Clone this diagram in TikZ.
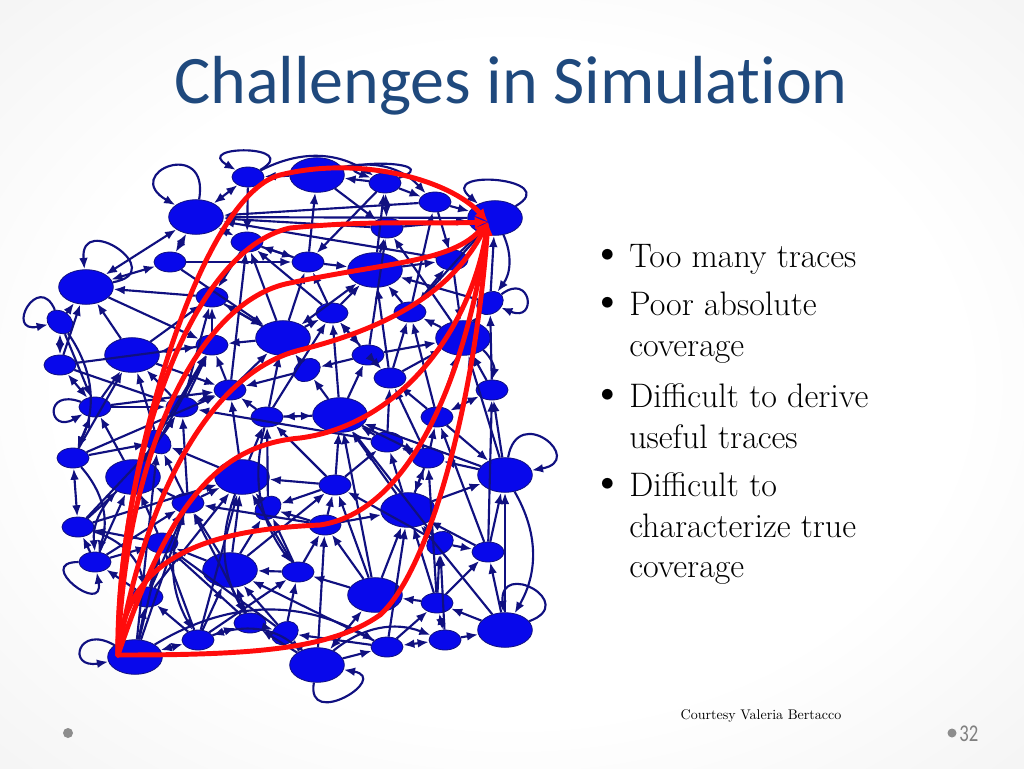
\documentclass[tikz,border=0pt]{standalone}
\usepackage{fontspec}
\newfontfamily\titlefont[Ligatures=NoCommon]{Carlito}
\usetikzlibrary{shapes.geometric,arrows.meta}
\definecolor{navy}{RGB}{16,16,128}
\definecolor{nodeblue}{RGB}{8,8,235}
\definecolor{titleblue}{RGB}{31,73,125}
\definecolor{tred}{RGB}{255,12,12}
\definecolor{pgray}{RGB}{128,128,128}
\pgfdeclareradialshading{slidebg}{\pgfpoint{0bp}{0bp}}{color(0bp)=(white); color(22bp)=(white); color(45bp)=(black!7); color(72bp)=(black!17)}
\tikzset{
  L/.style={ellipse, fill=nodeblue, draw=navy, line width=0.6pt, inner sep=0pt, minimum width=41pt, minimum height=26pt},
  S/.style={ellipse, fill=nodeblue, draw=navy, line width=0.6pt, inner sep=0pt, minimum width=24pt, minimum height=15pt},
  T/.style={S, minimum width=21pt, minimum height=16pt},
  e/.style={draw=navy, line width=1.6pt, -{Latex[length=8.5pt,width=6.5pt]}},
  ee/.style={draw=navy, line width=1.6pt, {Latex[length=8.5pt,width=6.5pt]}-{Latex[length=8.5pt,width=6.5pt]}},
  rline/.style={draw=tred, line width=3.7pt, line cap=round, -{Latex[length=10pt,width=9pt]}},
  bullettext/.style={anchor=base west, inner sep=0pt, font=\fontsize{25.5}{30}\selectfont},
  bulletdot/.style={anchor=base west, inner sep=0pt, font=\fontsize{36}{36}\selectfont},
}
\begin{document}
\begin{tikzpicture}[x=0.75pt,y=-0.75pt]
\useasboundingbox (0,0) rectangle (1024,768);
\shade[shading=slidebg] (0,0) rectangle (1024,768);

% title
\node[anchor=base, inner sep=0pt, text=titleblue, font=\titlefont\fontsize{51}{51}\selectfont] (title) at (511,103) {Challenges in Simulation};

% graph nodes
\foreach \n/\x/\y in {n1/196/217, n2/317/175, n3/495/218, n4/86/287, n5/375/270, n6/283/338, n7/132/355, n8/463/338, n9/340/415, n10/133/477, n11/242/477, n12/505/475, n13/408/510, n14/230/570, n15/375/595, n16/135/657, n17/317/665, n18/505/630}
  \node[L] (\n) at (\x,\y) {};
\foreach \n/\x/\y in {s1/248/177, s2/385/183, s3/435/202, s4/247/242, s5/387/228, s6/170/262, s7/308/262, s8/452/260, s9/212/297, s10/332/313, s11/410/312, s14/60/365, s15/212/345, s16/368/355, s18/390/378, s19/492/390, s20/95/407, s21/182/407, s22/230/390, s23/267/417, s25/437/417, s26/387/442, s27/73/458, s28/428/458, s29/188/503, s31/335/485, s32/78/527, s33/325/525, s34/162/543, s35/95/562, s37/488/552, s38/298/572, s39/147/597, s40/437/603, s41/250/623, s43/198/640, s44/387/647, s45/445/640}
  \node[S] (\n) at (\x,\y) {};
\foreach \n/\x/\y/\r in {s12/490/303/30, s13/60/322/-35, s17/307/370/30, s24/158/442/-35, s30/268/508/35, s36/440/543/30, s42/285/633/30}
  \node[T, rotate=\r] (\n) at (\x,\y) {};

% edges
\foreach \a/\b in {s3/n1, s5/n1, n3/n1, s8/n1, n2/s1, s2/n2, s2/s3, s3/n3, n2/s5, s5/n3, s7/n2, s7/s4, s4/s9, s9/n4, s7/n5, n5/s5, n5/s8, s8/n3, s8/n8, s10/s7, s10/n5, s11/n5, s11/s8, s12/n3, n8/s11, n8/s12, n6/s4, n6/s9, n6/s10, n6/s15, s15/s9, s15/n7, n7/n4, s14/n4, s13/n4, s16/s10, s16/n8, s16/s17, s17/n6, s18/n8, s18/s11, s19/n8, s19/s12, s20/n7, s21/n7, s21/s15, s22/s15, s22/n6, s23/n6, s23/s22, s24/s21, s24/n7, n9/s17, n9/s10, n9/s16, n9/s23, s25/s18, s25/n8, s26/n9, s26/s18, s28/s25, s28/s26, n10/s24, n10/s20, n11/s23, n11/s22, n11/s24, s29/n10, s29/n11, s30/n11, s31/n9, s31/n11, s31/s30, n12/s19, n12/s28, n12/n8, n13/s28, n13/s26, n13/n12, s33/n13, s33/s31, s33/s30, s32/n10, s34/n10, s34/s29, s35/s32, s35/s34, n14/s29, n14/s30, n14/s34, s38/n14, s38/s33, s38/s30, s36/n13, s36/s37, s37/n12, s37/n13, n15/s38, n15/s33, n15/n13, s40/s36, s40/n15, s40/s37, n18/s37, n18/s40, n18/n12, s39/s34, s39/s35, n16/s39, s43/s39, s41/n14, s41/s42, s42/s38, s44/s42, s45/n18, s44/s40, n17/s41, n17/s44, n17/s42, s43/n14, s36/n9, s37/s25, n12/n9, s26/s21, s32/n11, s27/s22, s20/s22, s14/s21, n7/s22, n4/s15, s13/s20, s6/s7, s4/s7, s9/n6, s17/s22, s23/n9, n9/s28, s31/s26, s33/s29, n14/s31, s42/n14, s41/s34, n16/s34, s43/s38, s39/s29, s35/n10, s27/s24, s14/s15, s6/n6, s1/s4, s2/s7, s3/s8, n3/s11, s25/n12, s28/n13, s30/s23, s29/s24, s34/s32, n16/s24, n16/s29, s43/n11, s41/s29, n17/s33, s44/n13, s45/s36, n18/n13, n15/n9, s40/s28, s37/s19, s36/s31, n13/n9, s31/s23, s29/s21, n10/s21, n10/s15, s24/s15, s21/s9, s22/s4, s23/s10, n6/s7, s16/s5, s18/n5, s25/s11, s28/s18, n8/s5, s12/n5, s11/s3, n5/s2, s10/s4, n7/s9, s20/s21, s27/n7, s32/s24, s35/s29, s39/n11, n14/n11, s38/n11, n15/s31, s40/n13, s44/n14, s42/s34, s43/s34}
  \draw[e] (\a) -- (\b);
\foreach \a/\b in {s1/n1, s4/n1, n1/s6, n4/n1, s6/n4, s13/s14, s14/s20, s20/s27, s27/s32, n16/s43, s44/s45, s2/s5, s41/s43, n17/n15, s40/s45, s10/s16, s21/s22, n6/n5, s16/s18, s19/s25}
  \draw[ee] (\a) -- (\b);
\foreach \a/\b in {s13/s27, s27/s35, n16/s44, s43/n17, n17/s45, n3/s12, s1/s2, n2/s3, n8/s19, n12/n18, s32/s39}
  \draw[e] (\a) to[bend left=30] (\b);
\foreach \a/\b in {n10/s35, s29/s43, n11/s41, s23/s38}
  \draw[e] (\a) to[bend right=25] (\b);
% self loops
\foreach \n/\o/\i/\d in {n1/80/150/48pt, s1/30/150/38pt, n4/10/95/44pt, s13/120/200/34pt, s2/20/160/40pt, n3/30/140/42pt, n12/80/10/42pt, n18/20/95/40pt, n17/260/350/36pt, s35/180/280/34pt, n16/150/190/32pt, s20/160/210/30pt, s12/30/330/30pt}
  \draw[e] (\n) to[out=\o, in=\i, min distance=\d] (\n);

% red traces
\coordinate (rs) at (118,655);
\coordinate (rt) at (488,222);
\draw[rline] (rs) .. controls (115,480) and (200,195) .. (280,175) .. controls (360,155) and (450,180) .. (rt);
\draw[rline] (rs) .. controls (118,460) and (190,250) .. (290,228) .. controls (370,220) and (430,224) .. (rt);
\draw[rline] (rs) .. controls (125,450) and (200,300) .. (290,283) .. controls (390,262) and (450,262) .. (rt);
\draw[rline] (rs) .. controls (140,520) and (200,375) .. (300,350) .. controls (400,325) and (455,285) .. (rt);
\draw[rline] (rs) .. controls (170,500) and (220,445) .. (300,438) .. controls (400,425) and (470,330) .. (rt);
\draw[rline] (rs) .. controls (125,560) and (200,530) .. (320,525) .. controls (420,510) and (470,350) .. (rt);
\draw[rline] (rs) .. controls (250,655) and (330,650) .. (380,615) .. controls (430,570) and (475,400) .. (rt);

% bullets
\foreach \i/\y in {1/267, 2/315, 3/407, 4/496}
  \node[bulletdot] (d\i) at (590,\y) {\textbullet};
\node[bullettext] (b1) at (629,267) {Too many traces};
\node[bullettext] (b2) at (629,315) {Poor absolute};
\node[bullettext] (b3) at (629,356) {coverage};
\node[bullettext] (b4) at (629,407) {Difficult to derive};
\node[bullettext] (b5) at (629,448) {useful traces};
\node[bullettext] (b6) at (629,496) {Difficult to};
\node[bullettext] (b7) at (629,537) {characterize true};
\node[bullettext] (b8) at (629,577) {coverage};

% footer
\node[anchor=base, inner sep=0pt, font=\fontsize{10.5}{12}\selectfont] (court) at (761,719) {Courtesy Valeria Bertacco};
\fill[pgray!90] (68,733) circle[radius=5];
\fill[pgray!90] (952,733) circle[radius=4.5];
\node[anchor=base west, inner sep=0pt, text=pgray, font=\titlefont\fontsize{18}{18}\selectfont] (pnum) at (959,741) {\scalebox{0.78}[1]{32}};
\end{tikzpicture}
\end{document}
